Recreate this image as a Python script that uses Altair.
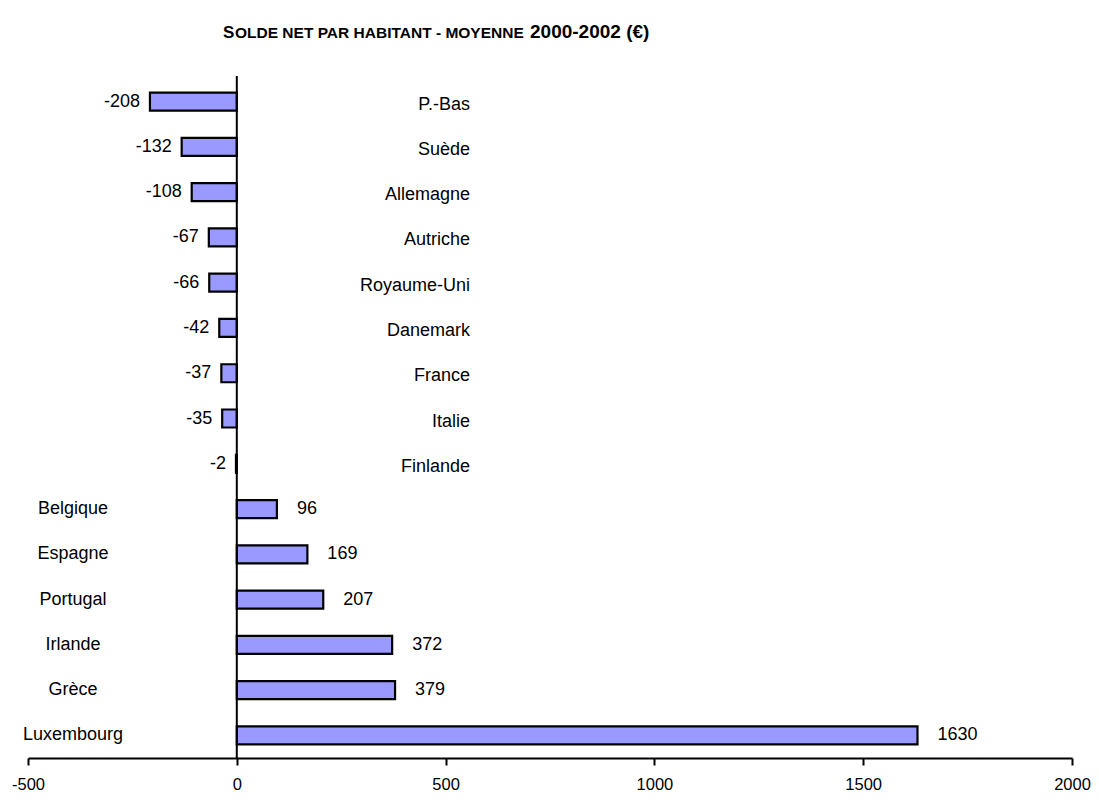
import altair as alt
import pandas as pd

countries = ["P.-Bas", "Suède", "Allemagne", "Autriche", "Royaume-Uni", "Danemark",
             "France", "Italie", "Finlande", "Belgique", "Espagne", "Portugal",
             "Irlande", "Grèce", "Luxembourg"]
values = [-208, -132, -108, -67, -66, -42, -37, -35, -2, 96, 169, 207, 372, 379, 1630]
x_ticks = [-500, 0, 500, 1000, 1500, 2000]
title_parts = ["S", "OLDE NET PAR HABITANT - MOYENNE", "2000-2002 (€)"]

FONT = "Liberation Sans, Arial, sans-serif"
df = pd.DataFrame({"pays": countries, "val": values})

W, H = 1044, 679

x_enc = alt.X("val:Q", scale=alt.Scale(domain=[-500, 2000], nice=False, zero=False),
              axis=alt.Axis(values=x_ticks, title=None, grid=False, domainColor="black",
                            domainWidth=2, tickColor="black", tickWidth=2, tickSize=7,
                            labelFont=FONT, labelFontSize=16.5, labelColor="black",
                            labelPadding=11, labelFlush=False, labelOverlap=False,
                            labelExpr="'' + datum.value"))
y_enc = alt.Y("pays:N", sort=countries, axis=None,
              scale=alt.Scale(paddingInner=0, paddingOuter=0))

base = alt.Chart(df).transform_calculate(lab="'' + datum.val")

bars = base.mark_bar(size=18, color="#9999FF", stroke="black", strokeWidth=2.2).encode(
    x=x_enc, x2=alt.datum(0), y=y_enc)

zero_rule = alt.Chart(pd.DataFrame({"z": [0]})).mark_rule(color="black", strokeWidth=2).encode(
    x=alt.X("z:Q", scale=alt.Scale(domain=[-500, 2000])),
    y=alt.value(-3), y2=alt.value(H))

neg = base.transform_filter("datum.val < 0")
pos = base.transform_filter("datum.val >= 0")

neg_vals = neg.mark_text(align="right", baseline="middle", dx=-10, font=FONT,
                         fontSize=18, color="black").encode(
    x="val:Q", y=y_enc, text="lab:N")
pos_vals = pos.mark_text(align="left", baseline="middle", dx=20, font=FONT,
                         fontSize=18, color="black").encode(
    x="val:Q", y=y_enc, text="lab:N")
neg_names = neg.mark_text(align="right", baseline="middle", font=FONT,
                          fontSize=18, color="black", dy=3).encode(
    x=alt.value(442), y=y_enc, text="pays:N")
pos_names = pos.mark_text(align="center", baseline="middle", font=FONT,
                          fontSize=18, color="black").encode(
    x=alt.value(45), y=y_enc, text="pays:N")

t_df = pd.DataFrame({"t": title_parts})
t1 = alt.Chart(t_df).transform_filter(alt.datum.t == title_parts[0]).mark_text(
    align="left", baseline="alphabetic", font=FONT, fontSize=17, fontWeight="bold",
    color="black").encode(x=alt.value(195), y=alt.value(-41), text="t:N")
t2 = alt.Chart(t_df).transform_filter(alt.datum.t == title_parts[1]).mark_text(
    align="left", baseline="alphabetic", font=FONT, fontSize=15.5, fontWeight="bold",
    color="black").encode(x=alt.value(207), y=alt.value(-41), text="t:N")
t3 = alt.Chart(t_df).transform_filter(alt.datum.t == title_parts[2]).mark_text(
    align="left", baseline="alphabetic", font=FONT, fontSize=19, fontWeight="bold",
    color="black").encode(x=alt.value(502), y=alt.value(-41), text="t:N")

chart = alt.layer(bars, zero_rule, neg_vals, pos_vals, neg_names, pos_names, t1, t2, t3).properties(
    width=W, height=H,
    autosize=alt.AutoSizeParams(type="none"),
    padding={"left": 20, "top": 71, "right": 19, "bottom": 34},
).configure_view(stroke=None)

chart.save("out.html", embed_options={"renderer": "svg", "actions": False})
